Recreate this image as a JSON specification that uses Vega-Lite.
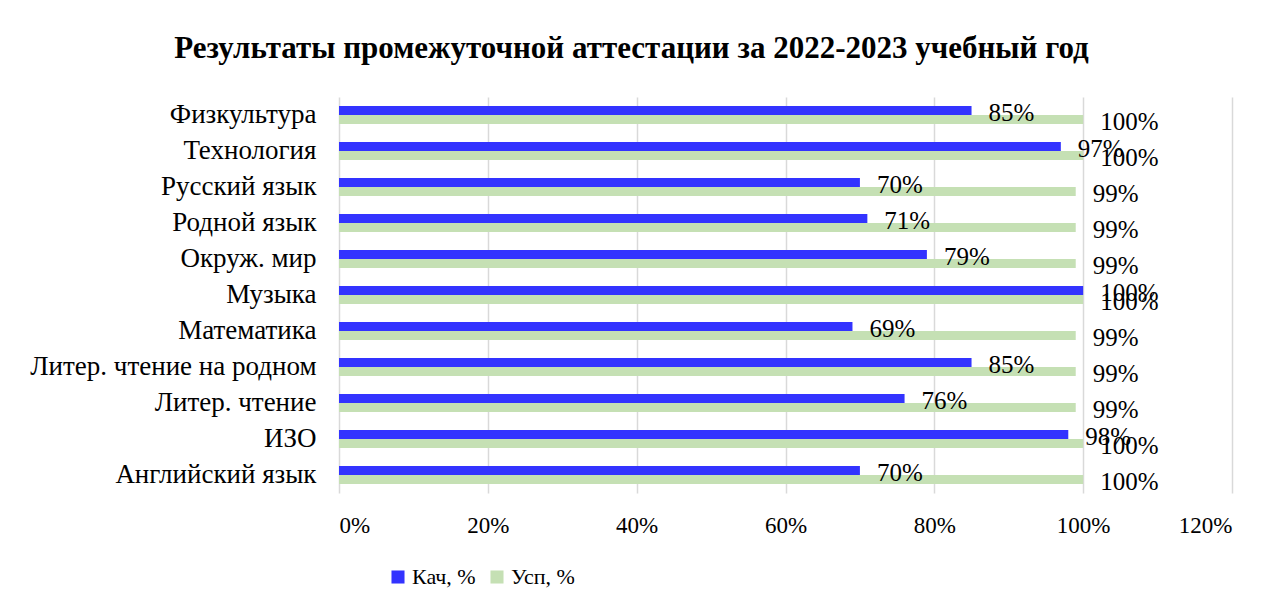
{
  "$schema": "https://vega.github.io/schema/vega-lite/v6.json",
  "autosize": {"type": "none"},
  "width": 893,
  "height": 396,
  "padding": {"left": 339, "top": 97, "right": 52, "bottom": 115},
  "background": "white",
  "title": {
    "text": "Результаты промежуточной аттестации за 2022-2023 учебный год",
    "font": "Liberation Serif",
    "fontSize": 31,
    "fontWeight": "bold",
    "color": "#000000",
    "anchor": "middle",
    "dx": -154,
    "offset": 32
  },
  "data": {
    "values": [
      {"subject": "Физкультура", "series": "Кач, %", "value": 0.85},
      {"subject": "Физкультура", "series": "Усп, %", "value": 1.0},
      {"subject": "Технология", "series": "Кач, %", "value": 0.97},
      {"subject": "Технология", "series": "Усп, %", "value": 1.0},
      {"subject": "Русский язык", "series": "Кач, %", "value": 0.70},
      {"subject": "Русский язык", "series": "Усп, %", "value": 0.99},
      {"subject": "Родной язык", "series": "Кач, %", "value": 0.71},
      {"subject": "Родной язык", "series": "Усп, %", "value": 0.99},
      {"subject": "Окруж. мир", "series": "Кач, %", "value": 0.79},
      {"subject": "Окруж. мир", "series": "Усп, %", "value": 0.99},
      {"subject": "Музыка", "series": "Кач, %", "value": 1.0},
      {"subject": "Музыка", "series": "Усп, %", "value": 1.0},
      {"subject": "Математика", "series": "Кач, %", "value": 0.69},
      {"subject": "Математика", "series": "Усп, %", "value": 0.99},
      {"subject": "Литер. чтение на родном\u2002", "series": "Кач, %", "value": 0.85},
      {"subject": "Литер. чтение на родном\u2002", "series": "Усп, %", "value": 0.99},
      {"subject": "Литер. чтение", "series": "Кач, %", "value": 0.76},
      {"subject": "Литер. чтение", "series": "Усп, %", "value": 0.99},
      {"subject": "ИЗО", "series": "Кач, %", "value": 0.98},
      {"subject": "ИЗО", "series": "Усп, %", "value": 1.0},
      {"subject": "Английский язык", "series": "Кач, %", "value": 0.70},
      {"subject": "Английский язык", "series": "Усп, %", "value": 1.0}
    ]
  },
  "encoding": {
    "y": {
      "field": "subject",
      "type": "nominal",
      "sort": null,
      "scale": {"paddingInner": 0.5, "paddingOuter": 0.25},
      "axis": {
        "title": null,
        "domain": false,
        "ticks": false,
        "grid": false,
        "labelPadding": 23,
        "labelFont": "Liberation Serif",
        "labelFontSize": 27,
        "labelColor": "#000000",
        "labelLimit": 400
      }
    },
    "yOffset": {
      "field": "series",
      "type": "nominal",
      "sort": ["Кач, %", "Усп, %"],
      "scale": {"paddingInner": 0, "paddingOuter": 0}
    },
    "x": {
      "field": "value",
      "type": "quantitative",
      "scale": {"domain": [0, 1.2], "nice": false, "zero": true},
      "axis": {
        "title": null,
        "values": [0, 0.2, 0.4, 0.6, 0.8, 1.0, 1.2],
        "format": ".0%",
        "domain": false,
        "ticks": false,
        "grid": true,
        "gridColor": "#d9d9d9",
        "gridWidth": 1.5,
        "labelPadding": 21,
        "labelFont": "Liberation Serif",
        "labelFontSize": 23,
        "labelColor": "#000000"
      }
    }
  },
  "layer": [
    {
      "mark": {"type": "bar", "cornerRadius": 0},
      "encoding": {
        "color": {
          "field": "series",
          "type": "nominal",
          "sort": ["Кач, %", "Усп, %"],
          "scale": {"domain": ["Кач, %", "Усп, %"], "range": ["#3333ff", "#c5e0b4"]},
          "legend": {
            "title": null,
            "orient": "none",
            "direction": "horizontal",
            "legendX": 48,
            "legendY": 469,
            "symbolType": "square",
            "symbolSize": 170,
            "symbolStrokeWidth": 0,
            "labelFont": "Liberation Serif",
            "labelFontSize": 22,
            "labelColor": "#000000",
            "columnPadding": 10,
            "labelOffset": 3
          }
        }
      }
    },
    {
      "mark": {
        "type": "text",
        "align": "left",
        "baseline": "middle",
        "dx": 17,
        "dy": 2,
        "font": "Liberation Serif",
        "fontSize": 25,
        "color": "#000000"
      },
      "encoding": {
        "text": {"field": "value", "type": "quantitative", "format": ".0%"},
        "detail": {"field": "series"}
      }
    }
  ],
  "config": {
    "view": {"stroke": null}
  }
}
